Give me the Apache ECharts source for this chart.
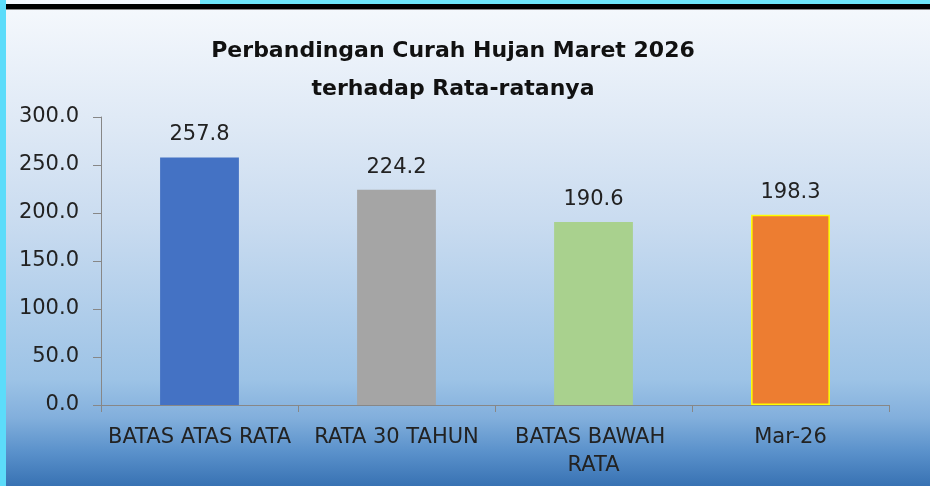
<!DOCTYPE html>
<html>
<head>
<meta charset="utf-8">
<script src="https://cdn.jsdelivr.net/npm/echarts@6/dist/echarts.min.js"></script>
<style>html,body{margin:0;padding:0;}#c{width:930px;height:486px;}</style>
</head>
<body>
<div id="c"></div>
<script>
var titleLines = ['Perbandingan Curah Hujan Maret 2026', 'terhadap Rata-ratanya'];
var categories = ['BATAS ATAS RATA', 'RATA 30 TAHUN', 'BATAS BAWAH RATA', 'Mar-26'];
var values = [257.8, 224.2, 190.6, 198.3];
var barColors = ['#4472c4', '#a5a5a5', '#a9d18e', '#ed7d31'];
var barBorders = ['#4472c4', '#a5a5a5', '#a9d18e', '#ffff00'];

var chart = echarts.init(document.getElementById('c'));
var font = 'DejaVu Sans';
chart.setOption({
  backgroundColor: new echarts.graphic.LinearGradient(0, 0, 0, 1, [
    {offset: 0.0, color: '#f6f9fd'},
    {offset: 0.27, color: '#dde8f5'},
    {offset: 0.45, color: '#cadcf0'},
    {offset: 0.78, color: '#9dc3e6'},
    {offset: 0.86, color: '#82afdc'},
    {offset: 0.93, color: '#5a91cb'},
    {offset: 1.0, color: '#3872b3'}
  ]),
  graphic: [
    {type: 'rect', shape: {x: 0, y: 0, width: 6, height: 486}, style: {fill: '#5cdcfa'}, z: 10},
    {type: 'rect', shape: {x: 200, y: 0, width: 730, height: 4}, style: {fill: '#6fe6fb'}, z: 10},
    {type: 'rect', shape: {x: 6, y: 4, width: 924, height: 5}, style: {fill: '#000000'}, z: 10},
    {type: 'rect', shape: {x: 6, y: 9, width: 924, height: 1}, style: {fill: '#8a8a8a'}, z: 10}
  ],
  title: {
    text: titleLines.join('\n'),
    left: 448,
    top: 27,
    textAlign: 'center',
    textStyle: {fontFamily: font, fontWeight: 'bold', fontSize: 22, lineHeight: 38, color: '#111'}
  },
  grid: {left: 101, right: 41, top: 117, bottom: 81},
  xAxis: {
    type: 'category',
    data: categories,
    axisLine: {lineStyle: {color: '#878787', width: 1}},
    axisTick: {show: true, length: 7, lineStyle: {color: '#878787'}},
    axisLabel: {
      fontFamily: font, fontSize: 21, color: '#222', margin: 19, lineHeight: 28,
      width: 196, overflow: 'break', interval: 0
    }
  },
  yAxis: {
    type: 'value',
    min: 0, max: 300, interval: 50,
    axisLine: {show: true, lineStyle: {color: '#878787', width: 1}},
    axisTick: {show: true, length: 8, lineStyle: {color: '#878787'}},
    splitLine: {show: false},
    axisLabel: {
      fontFamily: font, fontSize: 21, color: '#222', margin: 22,
      formatter: function (v) { return v.toFixed(1); }
    }
  },
  series: [{
    type: 'bar',
    barWidth: '40%',
    data: values.map(function (v, i) {
      return {value: v, itemStyle: {color: barColors[i], borderColor: barBorders[i], borderWidth: i === 3 ? 1.5 : 0}};
    }),
    label: {
      show: true, position: 'top', distance: 12,
      fontFamily: font, fontSize: 21, color: '#222',
      formatter: function (p) { return p.value.toFixed(1); }
    }
  }]
});
</script>
</body>
</html>
